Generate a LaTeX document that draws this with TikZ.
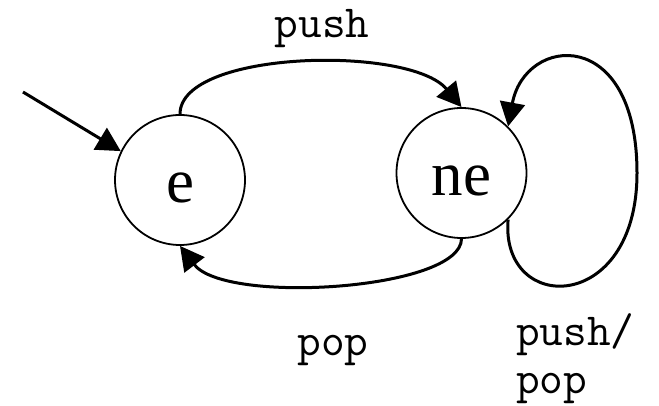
\documentclass[tikz,border=0pt]{standalone}
\usepackage{fontspec}
\setmainfont{Liberation Serif}
\usetikzlibrary{arrows.meta}
\begin{document}
\begin{tikzpicture}[x=1pt,y=-1pt,
  state/.style={draw, circle, line width=1.8pt, minimum size=130pt, inner sep=0pt,
    font=\fontsize{63}{63}\selectfont, text height=46pt, text depth=0pt},
  edge/.style={line width=3pt, -{Triangle[length=24pt,width=25pt]}},
  lbl/.style={font=\ttfamily\fontsize{46}{46}\selectfont, inner sep=0pt}]
\useasboundingbox (0,0) rectangle (659,406);
\node[state] (e) at (180,180) {e};
\node[state] (ne) at (461.5,173) {ne};
\coordinate (start) at (23,92);
\draw[edge] (start) -- (e.154);
\draw[edge] (e.north) .. controls (180,50) and (410,45) .. (ne.north);
\draw[edge] (ne.south) .. controls (461,290) and (225,305) .. (e.south);
\draw[edge] (ne.-45) .. controls (500,315) and (637,315) .. (637,173)
  .. controls (637,25) and (525,35) .. (ne.45);
\node[lbl, anchor=base] (lpush) at (322,38) {push};
\node[lbl, anchor=base] (lpop) at (333,355) {pop};
\node[lbl, anchor=base west] (lpp1) at (516,345) {push/};
\node[lbl, anchor=base west] (lpp2) at (516,393) {pop};
\end{tikzpicture}
\end{document}
